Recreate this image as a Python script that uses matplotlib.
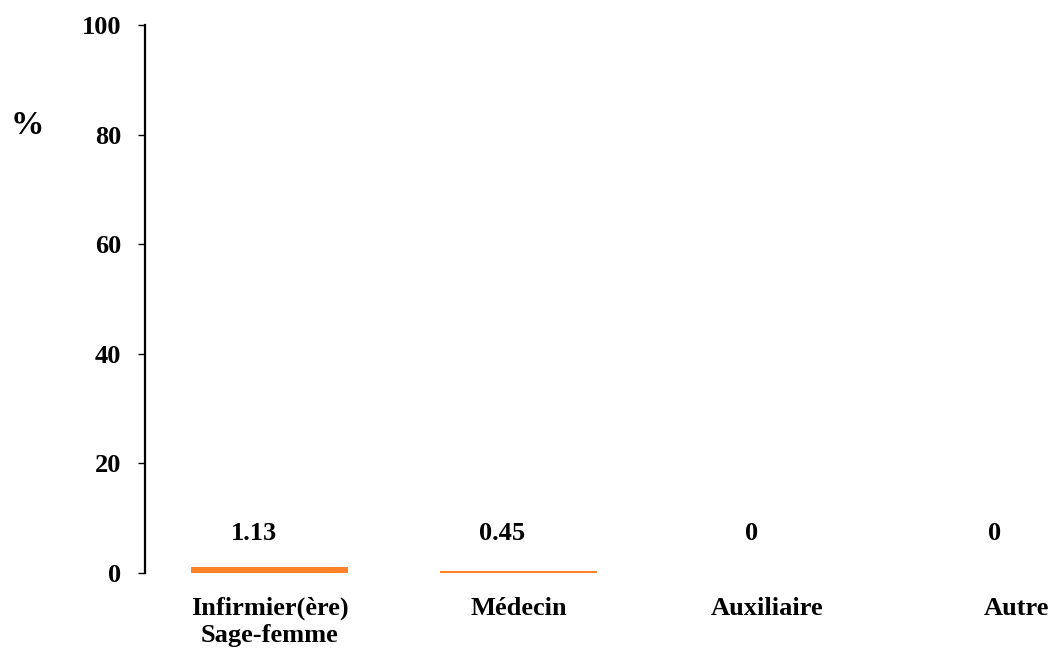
import matplotlib
matplotlib.use("Agg")
import matplotlib.pyplot as plt

categories = ["Infirmier(ère)\nSage-femme", "Médecin", "Auxiliaire", "Autre"]
values = [1.13, 0.45, 0, 0]
value_labels = ["1.13", "0.45", "0", "0"]
y_ticks = [0, 20, 40, 60, 80, 100]

plt.rcParams["font.family"] = ["Liberation Serif", "DejaVu Serif"]
plt.rcParams["font.weight"] = "bold"

W, H = 1053, 651
fig = plt.figure(figsize=(W / 100, H / 100), dpi=100)
ax = fig.add_axes([145 / W, (H - 573) / H, (W - 145) / W, (573 - 25) / H])

x = list(range(len(categories)))
ax.bar(x, values, width=0.63, color="#FF8228", edgecolor="none")

ax.set_xlim(-0.5, (W - 269.5) / 249)
ax.set_ylim(0, 100)
ax.set_yticks(y_ticks)
ax.set_yticklabels([str(t) for t in y_ticks], fontsize=19, fontweight="bold")
ax.set_xticks(x)
ax.set_xticklabels(categories, fontsize=19, fontweight="bold", linespacing=1.2)

for side in ("top", "right", "bottom"):
    ax.spines[side].set_visible(False)
ax.spines["left"].set_linewidth(1.6)
ax.tick_params(axis="y", direction="out", length=5, width=1, pad=12)
ax.tick_params(axis="x", length=0, pad=17)

# value labels sit above each bar, nudged left of the category centre
label_shift = [-16, -16, -16, -22]
for xi, lab, dx in zip(x, value_labels, label_shift):
    ax.annotate(lab, xy=(xi, 0), xytext=(dx, 40), textcoords="offset pixels",
                ha="center", va="center", fontsize=19, fontweight="bold")

fig.text(27 / W, 1 - 125 / H, "%", ha="center", va="center", fontsize=24, fontweight="bold")

fig.savefig("out.png", dpi=100)
